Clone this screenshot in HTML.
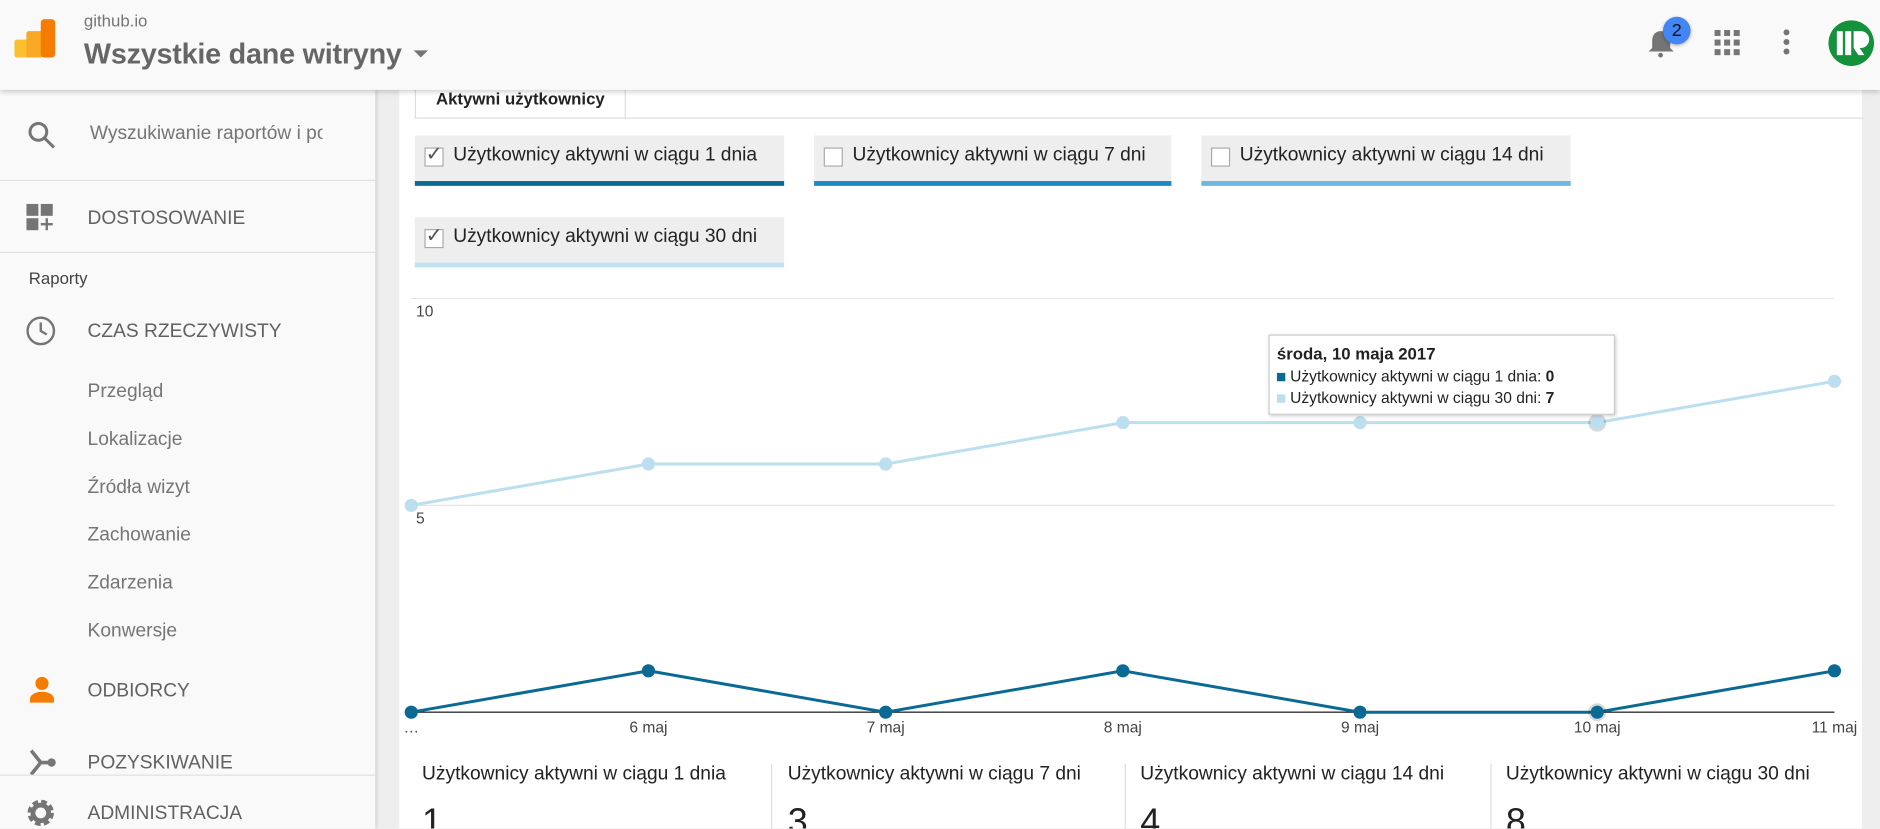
<!DOCTYPE html>
<html><head><meta charset="utf-8">
<style>
html,body{margin:0;padding:0;width:1880px;height:828px;overflow:hidden;background:#eee;}
#root{position:absolute;left:0;top:0;width:1568px;height:691px;transform:scale(1.19898);transform-origin:0 0;font-family:"Liberation Sans",sans-serif;overflow:hidden;background:#eeeeee;}
.abs{position:absolute;}
.side{left:0;top:75px;width:313px;height:616px;background:#f9f9f9;box-shadow:1px 0 3px rgba(0,0,0,.15);}
.si{position:absolute;left:73px;font-size:16px;color:#757575;transform:translateY(-50%);white-space:nowrap;}
.sh{position:absolute;left:73px;font-size:16px;color:#616161;transform:translateY(-50%);white-space:nowrap;}
.chip{position:absolute;height:38px;background:#eeeeee;font-size:16px;color:#222;}
.chip span.t{position:absolute;left:32px;top:8px;}
.cb{position:absolute;left:8px;top:10px;width:14px;height:14px;border:1px solid #aaa;background:#fff;}
.stat{position:absolute;top:637px;font-size:16px;color:#222;}
</style></head><body>
<div id="root">
 <div class="abs" style="left:333px;top:60px;width:1220px;height:640px;background:#fff"></div>
 <div class="abs" style="left:0;top:0;width:1568px;height:75px;background:#f9f9f9;box-shadow:0 2px 4px rgba(0,0,0,.18);z-index:3">
  <svg class="abs" style="left:12px;top:16px" width="36" height="34">
   <rect x="0" y="17" width="18" height="15" rx="2" fill="#fbc02d"/><rect x="10" y="10" width="14" height="22" rx="2" fill="#f9a825"/><rect x="22" y="0" width="12" height="32" rx="3" fill="#f57c00"/></svg>
  <div class="abs" style="left:70px;top:9px;font-size:14px;color:#757575">github.io</div>
  <div class="abs" style="left:70px;top:32px;font-size:24px;color:#666;font-weight:bold;letter-spacing:-0.2px">Wszystkie dane witryny</div>
  <div class="abs" style="left:345px;top:42px;width:0;height:0;border-left:6px solid transparent;border-right:6px solid transparent;border-top:6px solid #757575"></div>
  <svg class="abs" style="left:1372px;top:20px" width="30" height="30"><path d="M13 6c-4 0-7 3-7 8v6l-3 3h21l-3-3v-6c0-5-3-8-8-8z" fill="#757575"/><circle cx="13" cy="26" r="2" fill="#757575"/></svg>
  <div class="abs" style="left:1387px;top:14px;width:23px;height:23px;border-radius:50%;background:#4285f4;color:#111;font-size:15px;text-align:center;line-height:23px;box-shadow:0 1px 3px rgba(0,0,0,.3)">2</div>
  <svg class="abs" style="left:1430px;top:25px" width="22" height="22"><g fill="#757575"><rect x="0" y="0" width="5" height="5"/><rect x="8" y="0" width="5" height="5"/><rect x="16" y="0" width="5" height="5"/><rect x="0" y="8" width="5" height="5"/><rect x="8" y="8" width="5" height="5"/><rect x="16" y="8" width="5" height="5"/><rect x="0" y="16" width="5" height="5"/><rect x="8" y="16" width="5" height="5"/><rect x="16" y="16" width="5" height="5"/></g></svg>
  <svg class="abs" style="left:1485px;top:24px" width="10" height="24"><g fill="#757575"><circle cx="5" cy="3" r="2.5"/><circle cx="5" cy="11" r="2.5"/><circle cx="5" cy="19" r="2.5"/></g></svg>
  <svg class="abs" style="left:1524px;top:16px" width="40" height="40"><circle cx="20" cy="20" r="19" fill="#14913b"/><rect x="8" y="10" width="5" height="20" fill="#fff"/><rect x="15" y="10" width="5" height="20" fill="#fff"/><path d="M22 10h6a7 7 0 0 1 0 14h-1l4 6h-5l-4-6z" fill="#fff"/></svg>
 </div>
 <div class="abs side">
  <svg class="abs" style="left:22px;top:25px" width="26" height="26"><circle cx="10" cy="10" r="7" stroke="#757575" stroke-width="2.5" fill="none"/><line x1="15" y1="15" x2="23" y2="23" stroke="#757575" stroke-width="2.5"/></svg>
  <div class="si" style="left:75px;top:37px;width:194px;overflow:hidden">Wyszukiwanie raportów i pomocy</div>
  <div class="abs" style="left:0;top:75px;width:313px;height:1px;background:#e0e0e0"></div>
  <svg class="abs" style="left:22px;top:95px" width="26" height="26"><g fill="#757575"><rect x="0" y="0" width="10" height="10"/><rect x="12" y="0" width="10" height="10"/><rect x="0" y="12" width="10" height="10"/><rect x="16" y="12" width="2" height="10"/><rect x="12" y="16" width="10" height="2"/></g></svg>
  <div class="sh" style="top:108px">DOSTOSOWANIE</div>
  <div class="abs" style="left:0;top:135px;width:313px;height:1px;background:#e0e0e0"></div>
  <div class="abs" style="left:24px;top:149px;font-size:14px;color:#444">Raporty</div>
  <svg class="abs" style="left:21px;top:188px" width="26" height="26"><circle cx="13" cy="13" r="11" stroke="#757575" stroke-width="2" fill="none"/><path d="M13 6v7l5 3" stroke="#757575" stroke-width="2" fill="none"/></svg>
  <div class="sh" style="top:202px">CZAS RZECZYWISTY</div>
  <div class="si" style="top:252px">Przegląd</div>
  <div class="si" style="top:292px">Lokalizacje</div>
  <div class="si" style="top:332px">Źródła wizyt</div>
  <div class="si" style="top:372px">Zachowanie</div>
  <div class="si" style="top:412px">Zdarzenia</div>
  <div class="si" style="top:452px">Konwersje</div>
  <svg class="abs" style="left:22px;top:488px" width="26" height="26"><circle cx="13" cy="7" r="5.5" fill="#f57c00"/><path d="M3 23v-3c0-3 4-6 10-6s10 3 10 6v3z" fill="#f57c00"/></svg>
  <div class="sh" style="top:502px">ODBIORCY</div>
  <svg class="abs" style="left:22px;top:549px" width="26" height="26"><path d="M4 2l8 10-8 10M12 12h9" stroke="#757575" stroke-width="3" fill="none"/><circle cx="21" cy="12" r="3.5" fill="#757575"/></svg>
  <div class="sh" style="top:562px">POZYSKIWANIE</div>
  <div class="abs" style="left:0;top:571px;width:313px;height:1px;background:#e0e0e0"></div>
  <svg class="abs" style="left:21px;top:590px" width="26" height="26"><circle cx="13" cy="13" r="8" fill="none" stroke="#757575" stroke-width="6" stroke-dasharray="4 2.3"/><circle cx="13" cy="13" r="6.5" fill="none" stroke="#757575" stroke-width="4"/></svg>
  <div class="sh" style="top:604px">ADMINISTRACJA</div>
 </div>
 <div class="abs" style="left:346px;top:98px;width:1209px;height:1px;background:#ddd"></div>
 <div class="abs" style="left:346px;top:72px;width:174px;height:26px;background:#fff;border:1px solid #ddd;border-bottom:none;border-top:none;font-size:14px;font-weight:bold;color:#222;text-align:center;line-height:20px">Aktywni użytkownicy</div>
 <div class="chip" style="left:346px;top:113px;width:308px;border-bottom:4px solid #0b6a94"><div class="cb"></div><span class="abs" style="left:9px;top:6px;font-size:17px;color:#555">✓</span><span class="t">Użytkownicy aktywni w ciągu 1 dnia</span></div>
 <div class="chip" style="left:679px;top:113px;width:298px;border-bottom:4px solid #1e88c6"><div class="cb"></div><span class="t">Użytkownicy aktywni w ciągu 7 dni</span></div>
 <div class="chip" style="left:1002px;top:113px;width:308px;border-bottom:4px solid #6cb8e0"><div class="cb"></div><span class="t">Użytkownicy aktywni w ciągu 14 dni</span></div>
 <div class="chip" style="left:346px;top:181px;width:308px;border-bottom:4px solid #c2e1f2"><div class="cb"></div><span class="abs" style="left:9px;top:6px;font-size:17px;color:#555">✓</span><span class="t">Użytkownicy aktywni w ciągu 30 dni</span></div>
 <svg id="chart" class="abs" style="left:0;top:0" width="1568" height="691"></svg>
 <div class="abs" style="left:1058px;top:279px;width:287px;height:65px;background:#fff;border:1px solid #ccc;box-shadow:1px 1px 3px rgba(0,0,0,.2);font-size:13px;color:#222">
  <div class="abs" style="left:6px;top:7px;font-weight:bold;font-size:14px">środa, 10 maja 2017</div>
  <div class="abs" style="left:6px;top:26px"><span style="display:inline-block;width:7px;height:7px;background:#0b6a94;margin-right:4px"></span>Użytkownicy aktywni w ciągu 1 dnia: <b>0</b></div>
  <div class="abs" style="left:6px;top:44px"><span style="display:inline-block;width:7px;height:7px;background:#bcdff0;margin-right:4px"></span>Użytkownicy aktywni w ciągu 30 dni: <b>7</b></div>
 </div>
 <div class="abs" style="left:643px;top:637px;width:1px;height:60px;background:#ddd"></div>
 <div class="abs" style="left:938px;top:637px;width:1px;height:60px;background:#ddd"></div>
 <div class="abs" style="left:1243px;top:637px;width:1px;height:60px;background:#ddd"></div>
 <div class="stat" style="left:352px">Użytkownicy aktywni w ciągu 1 dnia<div style="font-size:30px;margin-top:14px">1</div></div>
 <div class="stat" style="left:657px">Użytkownicy aktywni w ciągu 7 dni<div style="font-size:30px;margin-top:14px">3</div></div>
 <div class="stat" style="left:951px">Użytkownicy aktywni w ciągu 14 dni<div style="font-size:30px;margin-top:14px">4</div></div>
 <div class="stat" style="left:1256px">Użytkownicy aktywni w ciągu 30 dni<div style="font-size:30px;margin-top:14px">8</div></div>
</div>
<script>
const categories=["…","6 maj","7 maj","8 maj","9 maj","10 maj","11 maj"];
const users1Day=[0,1,0,1,0,0,1];
const users30Days=[5,6,6,7,7,7,8];
const yTicks=[5,10];
const NS="http://www.w3.org/2000/svg";
const svg=document.getElementById('chart');
const X0=343,X1=1530,Y0=594,Y10=249;
function xs(i){return X0+(X1-X0)*i/(categories.length-1);}
function ys(v){return Y0-(Y0-Y10)*v/10;}
function mk(t,a){const e=document.createElementNS(NS,t);for(const k in a)e.setAttribute(k,a[k]);svg.appendChild(e);return e;}
yTicks.forEach(v=>{
  const l=mk('line',{x1:343,x2:1530,y1:ys(v),y2:ys(v),stroke:'#e6e6e6','stroke-width':1});
  
  
  const t=mk('text',{x:347,y:ys(v)+15,'font-size':13,fill:'#444','font-family':'Liberation Sans, sans-serif'});
  t.textContent=v;
  
  
});
const ax=mk('line',{x1:343,x2:1530,y1:Y0,y2:Y0,stroke:'#333','stroke-width':1.2});


categories.forEach((c,i)=>{
  const t=mk('text',{x:xs(i),y:Y0+17,'font-size':13,fill:'#444','text-anchor':'middle','font-family':'Liberation Sans, sans-serif'});
  t.textContent=c;
  
  
});
function series(vals,color,name){
  const p=mk('polyline',{points:vals.map((v,i)=>xs(i)+','+ys(v)).join(' '),fill:'none',stroke:color,'stroke-width':2.5});
  
  
  vals.forEach((v,i)=>{
    if(i===5) mk('circle',{cx:xs(i),cy:ys(v),r:7.5,fill:'rgba(0,0,0,0.15)'});
    const c=mk('circle',{cx:xs(i),cy:ys(v),r:5.5,fill:color});
    
    
  });
}
series(users30Days,'#bcdff0','users-30-days');
series(users1Day,'#0b6a94','users-1-day');
</script>
</body></html>
